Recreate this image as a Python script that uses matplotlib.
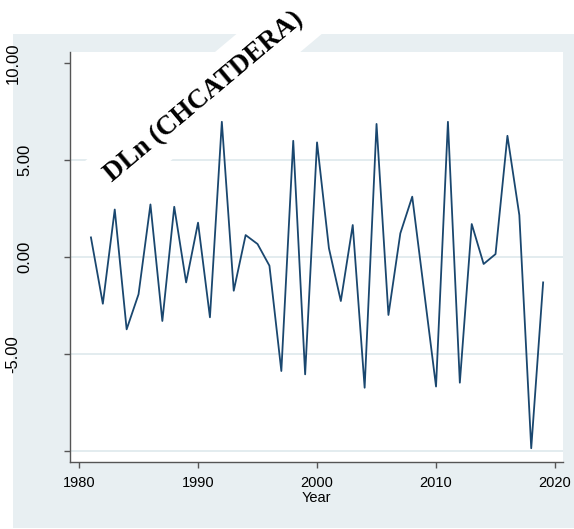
import matplotlib
matplotlib.use("Agg")
import matplotlib.pyplot as plt
from matplotlib.patches import Rectangle
from matplotlib.transforms import ScaledTranslation

years = list(range(1981, 2020))
values = [1.01, -2.41, 2.45, -3.73, -1.92, 2.71, -3.30, 2.59, -1.31, 1.77,
          -3.11, 6.97, -1.74, 1.13, 0.67, -0.45, -5.88, 5.99, -6.05, 5.91,
          0.45, -2.27, 1.65, -6.74, 6.86, -2.99, 1.22, 3.11, -1.78, -6.68,
          6.97, -6.48, 1.70, -0.36, 0.15, 6.25, 2.16, -9.86, -1.31]
yticks = [-10, -5, 0, 5, 10]
ytick_labels = ["", "-5.00", "0.00", "5.00", "10.00"]
xticks = [1980, 1990, 2000, 2010, 2020]
title = "DLn (CHCATDERA)"

W, H = 574, 529
fig = plt.figure(figsize=(W / 100, H / 100), dpi=100)
fig.patch.set_facecolor("white")

panel = "#e8eff2"
fig.patches.append(Rectangle((13 / W, 1 - 528 / H), (W - 13) / W, (528 - 34) / H,
                             transform=fig.transFigure, facecolor=panel,
                             edgecolor="none", zorder=-10))

ax = fig.add_axes([70 / W, 1 - 462 / H, (563 - 70) / W, (462 - 52) / H])
ax.set_facecolor("white")
ax.plot(years, values, color="#1a476f", lw=1.3, zorder=3)
ax.set_xlim(1979.24, 2020.67)
ax.set_ylim(-10.57, 10.57)

for g in [-10, -5, 0, 5]:
    ax.axhline(g, color="#e3ecef", lw=1.4, zorder=1)

ax.set_yticks(yticks)
ax.set_yticklabels(ytick_labels, rotation=90, va="center", fontsize=12,
                   family="Liberation Sans")
ax.set_xticks(xticks)
ax.set_xticklabels([str(x) for x in xticks], fontsize=10.5, family="Liberation Sans")
ax.tick_params(axis="both", direction="out", length=4, width=1, color="#555555")
ax.tick_params(axis="y", pad=23)
ax.tick_params(axis="x", pad=6)
ax.set_xlabel("Year", fontsize=10.5, family="Liberation Sans", labelpad=1)

for s in ["top", "right"]:
    ax.spines[s].set_visible(False)
for s in ["left", "bottom"]:
    ax.spines[s].set_color("#555555")
    ax.spines[s].set_linewidth(1)

# longer labels sit further left in the reference
for tick, lab in zip(ax.yaxis.get_major_ticks(), ytick_labels):
    if len(lab) == 5:
        tick.label1.set_transform(tick.label1.get_transform() +
                                  ScaledTranslation(-12 / 100, 0, fig.dpi_scale_trans))

fig.text(204 / W, 1 - 97 / H, title, rotation=40, ha="center", va="center",
         rotation_mode="anchor", fontsize=19.5, fontweight="bold",
         family="Liberation Serif", zorder=20,
         bbox=dict(boxstyle="square,pad=0.55", fc="white", ec="none"))

fig.savefig("out.png", dpi=100)
